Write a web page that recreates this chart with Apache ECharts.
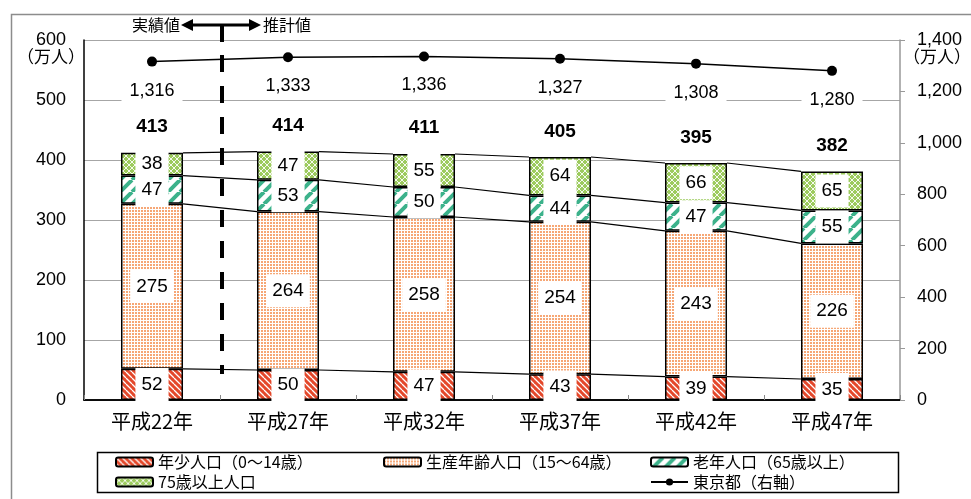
<!DOCTYPE html>
<html>
<head>
<meta charset="utf-8">
<script src="https://cdn.jsdelivr.net/npm/echarts@6/dist/echarts.min.js"></script>
<style>
  html, body { margin: 0; padding: 0; background: #fff; }
  #chart { width: 971px; height: 499px; }
</style>
</head>
<body>
<div id="chart"></div>
<script>
// 東京都の年齢3区分別人口の推移（万人）
const categories = ['平成22年', '平成27年', '平成32年', '平成37年', '平成42年', '平成47年'];
const young   = [52, 50, 47, 43, 39, 35];        // 年少人口（0～14歳）
const working = [275, 264, 258, 254, 243, 226];  // 生産年齢人口（15～64歳）
const elderly = [47, 53, 50, 44, 47, 55];        // 老年人口（65歳以上）
const over75  = [38, 47, 55, 64, 66, 65];        // 75歳以上人口
const totals  = [413, 414, 411, 405, 395, 382];  // 合計
const tokyo   = [1316, 1333, 1336, 1327, 1308, 1280]; // 東京都（右軸）
const leftTicks  = { min: 0, max: 600, interval: 100 };
const rightTicks = { min: 0, max: 1400, interval: 200 };

const NUM_FONT = '"Liberation Sans", Arial, "Noto Sans CJK JP", sans-serif';
const JP_FONT = '"Noto Sans CJK JP", "Liberation Sans", sans-serif';
const BAR_RATIO = 0.456;

function withCommas(v) {
  return String(v).replace(/\B(?=(\d{3})+(?!\d))/g, ',');
}

function makePattern(size, draw) {
  const c = document.createElement('canvas');
  c.width = c.height = size;
  const g = c.getContext('2d');
  draw(g, size);
  return { image: c, repeat: 'repeat' };
}

const youngFill = makePattern(6, (g, s) => {
  g.fillStyle = '#e4482b'; g.fillRect(0, 0, s, s);
  g.strokeStyle = '#ffffff'; g.lineWidth = 1.3;
  g.beginPath();
  for (const k of [-s, 0, s]) { g.moveTo(k, 0); g.lineTo(k + s, s); }
  g.stroke();
});
const workingFill = makePattern(3, (g, s) => {
  g.fillStyle = '#ffffff'; g.fillRect(0, 0, s, s);
  g.fillStyle = '#f6a776'; g.fillRect(0, 0, 2, 2);
});
const elderlyFill = makePattern(12, (g, s) => {
  g.fillStyle = '#ffffff'; g.fillRect(0, 0, s, s);
  g.strokeStyle = '#3cb28b'; g.lineWidth = 4;
  g.beginPath();
  for (const k of [-s, 0, s]) { g.moveTo(k, s); g.lineTo(k + s, 0); }
  g.stroke();
});
const over75Fill = makePattern(6, (g, s) => {
  g.fillStyle = '#9dcb5e'; g.fillRect(0, 0, s, s);
  g.strokeStyle = 'rgba(255,255,255,0.9)'; g.lineWidth = 1;
  g.beginPath();
  for (const k of [-s, 0, s]) {
    g.moveTo(k, 0); g.lineTo(k + s, s);
    g.moveTo(k, s); g.lineTo(k + s, 0);
  }
  g.stroke();
});

const segmentLabel = {
  show: true,
  position: 'inside',
  color: '#000',
  fontSize: 19,
  fontFamily: NUM_FONT,
  backgroundColor: '#fff',
  padding: [7, 6]
};

function barSeries(name, data, fill) {
  return {
    name: name,
    type: 'bar',
    stack: 'pop',
    barWidth: (BAR_RATIO * 100) + '%',
    data: data,
    itemStyle: { color: fill, borderColor: '#000', borderWidth: 1.5 },
    label: segmentLabel,
    emphasis: { disabled: true },
    z: 3
  };
}

// cumulative tops of each stacked segment, used for the connector lines
const layers = [young, working, elderly, over75];
const cumulative = layers.map((_, li) =>
  categories.map((_, ci) => layers.slice(0, li + 1).reduce((s, arr) => s + arr[ci], 0)));

const legendText = { fontSize: 16, color: '#000', fontFamily: JP_FONT, lineHeight: 16 };

const chart = echarts.init(document.getElementById('chart'));

chart.setOption({
  animation: false,
  backgroundColor: '#fff',
  textStyle: { fontFamily: JP_FONT },
  grid: { left: 84, right: 71, top: 40, bottom: 99, containLabel: false },
  legend: [
    {
      orient: 'vertical', left: 110, top: 449, itemGap: 4,
      itemWidth: 37, itemHeight: 9, textStyle: legendText,
      data: ['年少人口（0～14歳）', '75歳以上人口']
    },
    {
      orient: 'vertical', left: 378, top: 449, itemGap: 4,
      itemWidth: 37, itemHeight: 9, textStyle: legendText,
      data: ['生産年齢人口（15～64歳）']
    },
    {
      orient: 'vertical', left: 645, top: 449, itemGap: 4,
      itemWidth: 37, itemHeight: 9, textStyle: legendText,
      data: ['老年人口（65歳以上）', '東京都（右軸）']
    }
  ],
  xAxis: [
    {
      type: 'category',
      data: categories,
      position: 'bottom',
      axisLine: { lineStyle: { color: '#000', width: 1.5 } },
      axisTick: { show: true, inside: true, length: 5, lineStyle: { color: '#888' } },
      axisLabel: { color: '#000', fontSize: 20, fontFamily: JP_FONT, margin: 11 }
    },
    {
      type: 'category',
      data: categories,
      position: 'top',
      axisLine: { lineStyle: { color: '#000', width: 1.5 } },
      axisTick: { show: false },
      axisLabel: { show: false }
    }
  ],
  yAxis: [
    {
      type: 'value',
      min: leftTicks.min, max: leftTicks.max, interval: leftTicks.interval,
      axisLine: { show: true, lineStyle: { color: '#000', width: 1.5 } },
      axisTick: { show: false },
      splitLine: { lineStyle: { color: '#a6a6a6', width: 1 } },
      axisLabel: { color: '#000', fontSize: 18, fontFamily: NUM_FONT, margin: 18 }
    },
    {
      type: 'value',
      position: 'right',
      min: rightTicks.min, max: rightTicks.max, interval: rightTicks.interval,
      axisLine: { show: true, lineStyle: { color: '#999', width: 1.5 } },
      axisTick: { show: true, length: 5, lineStyle: { color: '#999' } },
      splitLine: { show: false },
      axisLabel: { color: '#000', fontSize: 18, fontFamily: NUM_FONT, margin: 17, formatter: withCommas }
    }
  ],
  series: [
    barSeries('年少人口（0～14歳）', young, youngFill),
    barSeries('生産年齢人口（15～64歳）', working, workingFill),
    barSeries('老年人口（65歳以上）', elderly, elderlyFill),
    barSeries('75歳以上人口', over75, over75Fill),
    {
      name: 'connectors',
      type: 'custom',
      silent: true,
      xAxisIndex: 0,
      yAxisIndex: 0,
      data: categories.slice(0, -1).map((_, i) => [i]),
      encode: { x: 0 },
      z: 2,
      renderItem: function (params, api) {
        const i = api.value(0);
        const half = api.size([1, 0])[0] * BAR_RATIO / 2;
        const children = cumulative.map(layer => {
          const a = api.coord([i, layer[i]]);
          const b = api.coord([i + 1, layer[i + 1]]);
          return {
            type: 'line',
            shape: { x1: a[0] + half, y1: a[1], x2: b[0] - half, y2: b[1] },
            style: { stroke: '#000', lineWidth: 1.2 }
          };
        });
        return { type: 'group', children: children };
      }
    },
    {
      name: '合計',
      type: 'scatter',
      yAxisIndex: 0,
      data: totals,
      symbolSize: 2,
      itemStyle: { color: '#fff', opacity: 1 },
      label: {
        show: true, position: 'top', distance: 15, opacity: 1,
        color: '#000', fontSize: 19, fontWeight: 'bold', fontFamily: NUM_FONT
      },
      silent: true,
      z: 1
    },
    {
      name: '東京都（右軸）',
      type: 'line',
      yAxisIndex: 1,
      data: tokyo,
      symbol: 'circle',
      symbolSize: 10,
      lineStyle: { color: '#000', width: 1.5 },
      itemStyle: { color: '#000' },
      label: {
        show: true, position: 'bottom', distance: 12,
        color: '#000', fontSize: 18, fontFamily: NUM_FONT,
        backgroundColor: '#fff', padding: [3, 8],
        formatter: p => withCommas(p.value)
      },
      emphasis: { disabled: true },
      z: 5
    }
  ],
  graphic: [
    // outer frame
    { type: 'rect', left: 9, top: 12, z: 0, silent: true,
      shape: { width: 1000, height: 600 },
      style: { fill: 'none', stroke: '#8c8c8c', lineWidth: 1.5 } },
    // legend frame
    { type: 'rect', left: 95, top: 450, z: 0, silent: true,
      shape: { width: 801, height: 40 },
      style: { fill: 'none', stroke: '#000', lineWidth: 1.5 } },
    // unit captions
    { type: 'text', x: 51, y: 57, silent: true,
      style: { text: '（万人）', font: '17px "Noto Sans CJK JP", sans-serif', fill: '#000',
               textAlign: 'center', textVerticalAlign: 'middle' } },
    { type: 'text', x: 937, y: 57, silent: true,
      style: { text: '（万人）', font: '17px "Noto Sans CJK JP", sans-serif', fill: '#000',
               textAlign: 'center', textVerticalAlign: 'middle' } },
    // actual / projected divider
    { type: 'text', x: 180, y: 25, silent: true,
      style: { text: '実績値', font: '16px "Noto Sans CJK JP", sans-serif', fill: '#000',
               textAlign: 'right', textVerticalAlign: 'middle' } },
    { type: 'text', x: 263, y: 25, silent: true,
      style: { text: '推計値', font: '16px "Noto Sans CJK JP", sans-serif', fill: '#000',
               textAlign: 'left', textVerticalAlign: 'middle' } },
    { type: 'line', silent: true, z: 10,
      shape: { x1: 190, y1: 25, x2: 252, y2: 25 },
      style: { stroke: '#000', lineWidth: 3 } },
    { type: 'polygon', silent: true, z: 10,
      shape: { points: [[181, 25], [193, 19], [193, 31]] },
      style: { fill: '#000' } },
    { type: 'polygon', silent: true, z: 10,
      shape: { points: [[261, 25], [249, 19], [249, 31]] },
      style: { fill: '#000' } },
    { type: 'line', silent: true, z: 10,
      shape: { x1: 222, y1: 25, x2: 222, y2: 42 },
      style: { stroke: '#000', lineWidth: 4 } },
    { type: 'line', silent: true, z: 10,
      shape: { x1: 222, y1: 55, x2: 222, y2: 374 },
      style: { stroke: '#000', lineWidth: 4, lineDash: [17, 14] } }
  ]
});
</script>
</body>
</html>
